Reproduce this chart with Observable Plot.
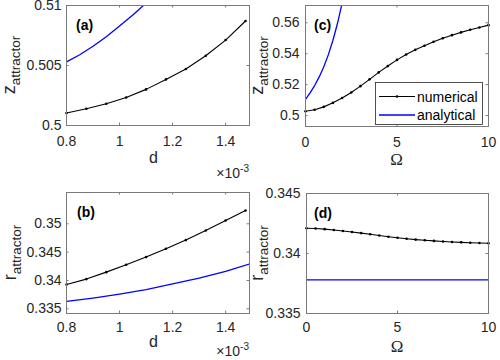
<!DOCTYPE html>
<html><head><meta charset="utf-8">
<script src="https://cdn.jsdelivr.net/npm/d3@7"></script>
<script src="https://cdn.jsdelivr.net/npm/@observablehq/plot@0.6"></script>
<style>
body{margin:0;background:#fff;}
#fig{position:relative;width:500px;height:360px;overflow:hidden;background:#fff;}
.panel{position:absolute;width:250px;height:180px;}
.panel svg{overflow:visible;display:block;}
</style></head><body><div id="fig"></div>
<script>
// ---------- data ----------
const dNum   = [0.8, 0.875, 0.95, 1.025, 1.1, 1.175, 1.25, 1.325, 1.4, 1.475];
const zNumD  = [0.50104, 0.5014, 0.50181, 0.50233, 0.50301, 0.50384, 0.50471, 0.50581, 0.50712, 0.50871];
const dAnaZ  = [0.8, 0.85, 0.9, 0.95, 1.0, 1.05, 1.1];
const zAnaD  = [0.5053, 0.5059, 0.5066, 0.5074, 0.5083, 0.5092, 0.5102];
const rNumD  = [0.33929, 0.34024, 0.34147, 0.34276, 0.34412, 0.34559, 0.34712, 0.34882, 0.35059, 0.35235];
const dAnaR  = [0.8, 0.9, 1.0, 1.1, 1.2, 1.3, 1.4, 1.49];
const rAnaD  = [0.3363, 0.3369, 0.3376, 0.3384, 0.3394, 0.3404, 0.3416, 0.3429];
const omega  = [0, 0.5, 1, 1.5, 2, 2.5, 3, 3.5, 4, 4.5, 5, 5.5, 6, 6.5, 7, 7.5, 8, 8.5, 9, 9.5, 10];
const zNumW  = [0.5028, 0.5037, 0.5056, 0.5082, 0.5113, 0.5149, 0.519, 0.5234, 0.5279, 0.532, 0.536, 0.5395, 0.5425, 0.5452, 0.5477, 0.55, 0.552, 0.5538, 0.5555, 0.557, 0.5585];
const omegaAnaZ = [0, 0.25, 0.5, 0.75, 1, 1.25, 1.5, 1.75, 2, 2.25];
const zAnaW  = [0.5104, 0.5146, 0.5194, 0.525, 0.5316, 0.5394, 0.5487, 0.5597, 0.5727, 0.5882];
const rNumW  = [0.3421, 0.34208, 0.34203, 0.34196, 0.34188, 0.34179, 0.3417, 0.3416, 0.3415, 0.3414, 0.34131, 0.34123, 0.34116, 0.3411, 0.34105, 0.341, 0.34096, 0.34093, 0.3409, 0.34088, 0.34086];
const omegaAnaR = [0, 10];
const rAnaW  = [0.3378, 0.3378];

const dTicks = [0.8, 1, 1.2, 1.4];
const wTicks = [0, 5, 10];
const zTicksA = [0.5, 0.505, 0.51];
const rTicksB = [0.335, 0.34, 0.345, 0.35];
const zTicksC = [0.5, 0.52, 0.54, 0.56];
const rTicksD = [0.335, 0.34, 0.345];

const legendLabels = ["numerical", "analytical"];

// ---------- styling ----------
const W = 250, H = 180;
const BOX = "#7a7a7a", INK = "#262626";
const SANS = "'Liberation Sans', Arial, Helvetica, sans-serif";
const SERIF = "'Liberation Serif', 'Times New Roman', serif";
const FS = 14;
const zip = (xs, ys) => xs.map((x, i) => ({x, y: ys[i]}));

function panel(c) {
  const pw = W - c.mL - c.mR, ph = H - c.mT - c.mB, tl = 2.5;
  const svg = Plot.plot({
    width: W, height: H,
    marginLeft: c.mL, marginRight: c.mR, marginTop: c.mT, marginBottom: c.mB,
    x: {domain: c.xDomain}, y: {domain: c.yDomain},
    style: {fontFamily: SANS, fontSize: FS + "px", color: INK, background: "transparent", overflow: "visible"},
    marks: [
      Plot.line(c.ana, {x: "x", y: "y", stroke: "#0000ff", strokeWidth: 1.3, clip: true}),
      Plot.line(c.num, {x: "x", y: "y", stroke: "#000", strokeWidth: 1.1}),
      Plot.dot(c.num, {x: "x", y: "y", r: 1.3, fill: "#000", stroke: null}),
      Plot.tickX(c.xTicks, {x: d => d, insetTop: ph - tl, stroke: BOX}),
      Plot.tickX(c.xTicks, {x: d => d, insetBottom: ph - tl, stroke: BOX}),
      Plot.tickY(c.yTicks, {y: d => d, insetRight: pw - tl, stroke: BOX}),
      Plot.tickY(c.yTicks, {y: d => d, insetLeft: pw - tl, stroke: BOX}),
      Plot.frame({stroke: BOX}),
      Plot.axisX(c.xTicks, {tickSize: 0, tickPadding: c.xPad, tickFormat: d => String(d), label: null, fontSize: FS}),
      Plot.axisY(c.yTicks, {tickSize: 0, tickPadding: c.yPad, tickFormat: d => String(d), label: null, fontSize: FS})
    ]
  });
  const s = d3.select(svg);
  // x label
  s.append("text").attr("x", c.mL + pw / 2 + (c.xlDx || 0)).attr("y", c.xlY)
    .attr("text-anchor", "middle").attr("fill", INK)
    .attr("font-family", c.xlFont).attr("font-size", c.xlSize).text(c.xLabel);
  // y label with subscript
  const yl = s.append("text")
    .attr("transform", `translate(${c.ylX},${c.mT + ph / 2}) rotate(-90)`)
    .attr("text-anchor", "middle").attr("fill", INK).attr("font-family", SANS).attr("font-size", 18);
  yl.append("tspan").text(c.yMain);
  yl.append("tspan").attr("font-size", 13.5).attr("dy", 5).text(c.ySub);
  // panel tag
  s.append("text").attr("x", c.tagX).attr("y", c.tagY).attr("fill", "#000").attr("text-anchor", "start")
    .attr("font-family", SANS).attr("font-weight", "bold").attr("font-size", 14).text(c.tag);
  // exponent
  if (c.expY) {
    const t = s.append("text").attr("x", W - c.mR).attr("y", c.expY).attr("text-anchor", "end")
      .attr("fill", INK).attr("font-family", SANS).attr("font-size", FS);
    t.append("tspan").text("\u00d710");
    t.append("tspan").attr("font-size", 10).attr("dy", -6).text("-3");
  }
  // legend
  if (c.legend) {
    const L = c.legend;
    s.append("rect").attr("x", L.x + 0.5).attr("y", L.y + 0.5).attr("width", L.w).attr("height", L.h)
      .attr("fill", "#fff").attr("stroke", INK).attr("stroke-width", 0.8);
    const cols = ["#000", "#0000ff"];
    legendLabels.forEach((lab, i) => {
      const yy = L.y + L.row0 + i * L.dy;
      s.append("line").attr("x1", L.x + 4).attr("x2", L.x + 40).attr("y1", yy).attr("y2", yy)
        .attr("stroke", cols[i]).attr("stroke-width", i ? 1.3 : 1.1);
      if (i === 0) s.append("circle").attr("cx", L.x + 22).attr("cy", yy).attr("r", 1.3).attr("fill", "#000");
      s.append("text").attr("x", L.x + 42).attr("y", yy + 5).attr("fill", "#000").attr("text-anchor", "start")
        .attr("font-family", SANS).attr("font-size", 14).text(lab);
    });
  }
  const div = document.createElement("div");
  div.className = "panel";
  div.style.left = c.left + "px"; div.style.top = c.top + "px";
  div.appendChild(svg);
  document.getElementById("fig").appendChild(div);
}

panel({left: 0, top: 0, mL: 66, mR: 1, mT: 5, mB: 55,
  xDomain: [0.8, 1.49], yDomain: [0.5, 0.51], xTicks: dTicks, yTicks: zTicksA,
  num: zip(dNum, zNumD), ana: zip(dAnaZ, zAnaD), xPad: 11, yPad: 5,
  xLabel: "d", xlFont: SANS, xlSize: 16, xlY: 163, xlDx: -4,
  yMain: "z", ySub: "attractor", ylX: 15, tag: "(a)", tagX: 76, tagY: 30, expY: 178});

panel({left: 250, top: 0, mL: 55, mR: 12, mT: 5, mB: 54,
  xDomain: [0, 10], yDomain: [0.4929, 0.5712], xTicks: wTicks, yTicks: zTicksC,
  num: zip(omega, zNumW), ana: zip(omegaAnaZ, zAnaW), xPad: 11, yPad: 6,
  xLabel: "\u03a9", xlFont: SERIF, xlSize: 17, xlY: 164.5,
  yMain: "z", ySub: "attractor", ylX: 13, tag: "(c)", tagX: 64, tagY: 30,
  legend: {x: 125, y: 82, w: 107, h: 42, row0: 14.5, dy: 18.5}});

panel({left: 0, top: 180, mL: 66, mR: 1, mT: 12, mB: 47,
  xDomain: [0.8, 1.49], yDomain: [0.33417, 0.35552], xTicks: dTicks, yTicks: rTicksB,
  num: zip(dNum, rNumD), ana: zip(dAnaR, rAnaD), xPad: 9, yPad: 5,
  xLabel: "d", xlFont: SANS, xlSize: 16, xlY: 167, xlDx: -4,
  yMain: "r", ySub: "attractor", ylX: 15.5, tag: "(b)", tagX: 77, tagY: 37, expY: 176});

panel({left: 250, top: 180, mL: 56, mR: 12, mT: 13, mB: 47,
  xDomain: [0, 10], yDomain: [0.335, 0.345], xTicks: wTicks, yTicks: rTicksD,
  num: zip(omega, rNumW), ana: zip(omegaAnaR, rAnaW), xPad: 9, yPad: 6,
  xLabel: "\u03a9", xlFont: SERIF, xlSize: 17, xlY: 172,
  yMain: "r", ySub: "attractor", ylX: 13, tag: "(d)", tagX: 64, tagY: 37.5});
</script></body></html>
